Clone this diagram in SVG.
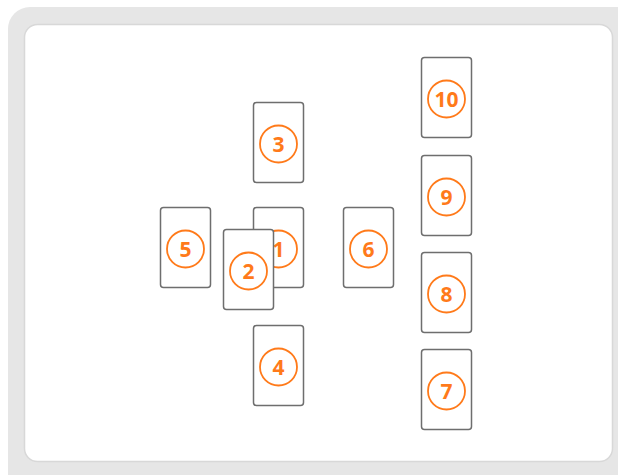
<svg xmlns="http://www.w3.org/2000/svg" width="618" height="475" viewBox="0 0 618 475">
<style>
.card rect{fill:#fff;stroke:#6e6e6e;stroke-width:1.5}
.card circle{fill:none;stroke:#ff7a1a;stroke-width:1.8}
.card text{fill:#ff7a1a;font-family:"Open Sans","Liberation Sans",sans-serif;font-weight:bold;font-size:21px;text-anchor:middle;dominant-baseline:central}
</style>
<rect x="8" y="7" width="640" height="500" rx="22" fill="#e6e6e6"/>
<rect x="24.5" y="24.5" width="588" height="437" rx="13" fill="#fff" stroke="#d8d8d8" stroke-width="1.5"/>
<g id="connectors"/>
<g id="card3" class="card" transform="translate(253.5,102.5)"><rect width="50" height="80" rx="3"/><circle cx="25" cy="41.5" r="18.5"/><text x="25" y="41.5">3</text></g>
<g id="card5" class="card" transform="translate(160.5,207.5)"><rect width="50" height="80" rx="3"/><circle cx="25" cy="41.5" r="18.5"/><text x="25" y="41.5">5</text></g>
<g id="card1" class="card" transform="translate(253.5,207.5)"><rect width="50" height="80" rx="3"/><circle cx="25" cy="41.5" r="18.5"/><text x="25" y="41.5">1</text></g>
<g id="card2" class="card" transform="translate(223.5,229.5)"><rect width="50" height="80" rx="3"/><circle cx="25" cy="41.5" r="18.5"/><text x="25" y="41.5">2</text></g>
<g id="card6" class="card" transform="translate(343.5,207.5)"><rect width="50" height="80" rx="3"/><circle cx="25" cy="41.5" r="18.5"/><text x="25" y="41.5">6</text></g>
<g id="card4" class="card" transform="translate(253.5,325.5)"><rect width="50" height="80" rx="3"/><circle cx="25" cy="41.5" r="18.5"/><text x="25" y="41.5">4</text></g>
<g id="card10" class="card" transform="translate(421.5,57.5)"><rect width="50" height="80" rx="3"/><circle cx="25" cy="41.5" r="18.5"/><text x="25" y="41.5">10</text></g>
<g id="card9" class="card" transform="translate(421.5,155.5)"><rect width="50" height="80" rx="3"/><circle cx="25" cy="41.5" r="18.5"/><text x="25" y="41.5">9</text></g>
<g id="card8" class="card" transform="translate(421.5,252.5)"><rect width="50" height="80" rx="3"/><circle cx="25" cy="41.5" r="18.5"/><text x="25" y="41.5">8</text></g>
<g id="card7" class="card" transform="translate(421.5,349.5)"><rect width="50" height="80" rx="3"/><circle cx="25" cy="41.5" r="18.5"/><text x="25" y="41.5">7</text></g>
</svg>
